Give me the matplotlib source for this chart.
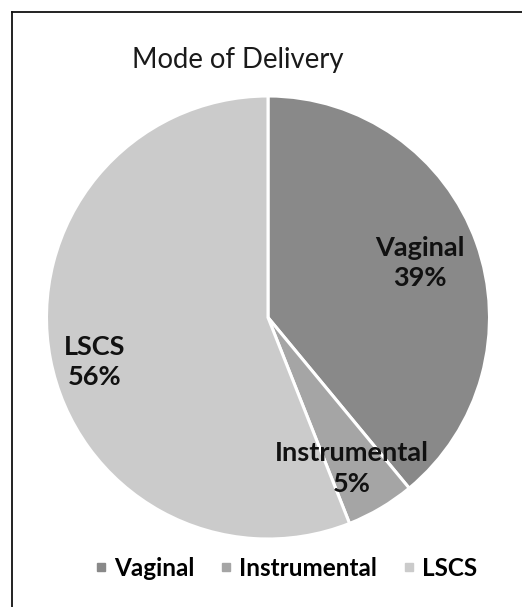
import matplotlib
matplotlib.use("Agg")
import matplotlib.pyplot as plt
from matplotlib.lines import Line2D
import numpy as np

title = "Mode of Delivery"
categories = ["Vaginal", "Instrumental", "LSCS"]
values = [39, 5, 56]
pct_labels = ["39%", "5%", "56%"]
colors = ["#898989", "#a5a5a5", "#cbcbcb"]

W, H = 522, 607
fig = plt.figure(figsize=(W / 100, H / 100), dpi=100)
plt.rcParams['font.family'] = ['Lato', 'DejaVu Sans']

cx, cy, r = 268, 317.5, 221.5
ax = fig.add_axes([(cx - r) / W, (H - cy - r) / H, 2 * r / W, 2 * r / H])
wedges, _ = ax.pie(values, colors=colors, startangle=90, counterclock=False,
                   wedgeprops=dict(edgecolor="white", linewidth=2.2),
                   radius=1.0)
ax.set_xlim(-1, 1)
ax.set_ylim(-1, 1)
ax.set_aspect("equal")
ax.axis("off")

label_dist = [0.73, 0.78, 0.81]
angle_adj = [0, -1.5, 3.5]
for w, cat, p, d, a in zip(wedges, categories, pct_labels, label_dist, angle_adj):
    ang = np.deg2rad((w.theta1 + w.theta2) / 2 + a)
    ax.text(d * np.cos(ang), d * np.sin(ang), f"{cat}\n{p}", ha="center", va="center",
            fontsize=19.5, fontweight="bold", color="#111111", linespacing=1.32)

fig.text(132 / W, 1 - 60 / H, title, ha="left", va="center", fontsize=19.8, color="#1a1a1a")

# border lines (left and top)
fig.add_artist(Line2D([11.5 / W, 11.5 / W], [0, 1 - 11.5 / H], transform=fig.transFigure,
                      color="#111111", linewidth=1.3))
fig.add_artist(Line2D([11.5 / W, 1], [1 - 11.5 / H, 1 - 11.5 / H], transform=fig.transFigure,
                      color="#111111", linewidth=1.3))

handles = [Line2D([], [], marker="s", linestyle="none", markersize=5.6, markerfacecolor=c,
                  markeredgecolor=c) for c in colors]
fig.legend(handles, categories, loc="center", bbox_to_anchor=(286 / W, 1 - 568 / H),
           ncol=3, frameon=False, prop=dict(weight="bold", size=17.5),
           handletextpad=0.3, columnspacing=1.05, handlelength=0.5)

fig.savefig("out.png", dpi=100, facecolor="white")
